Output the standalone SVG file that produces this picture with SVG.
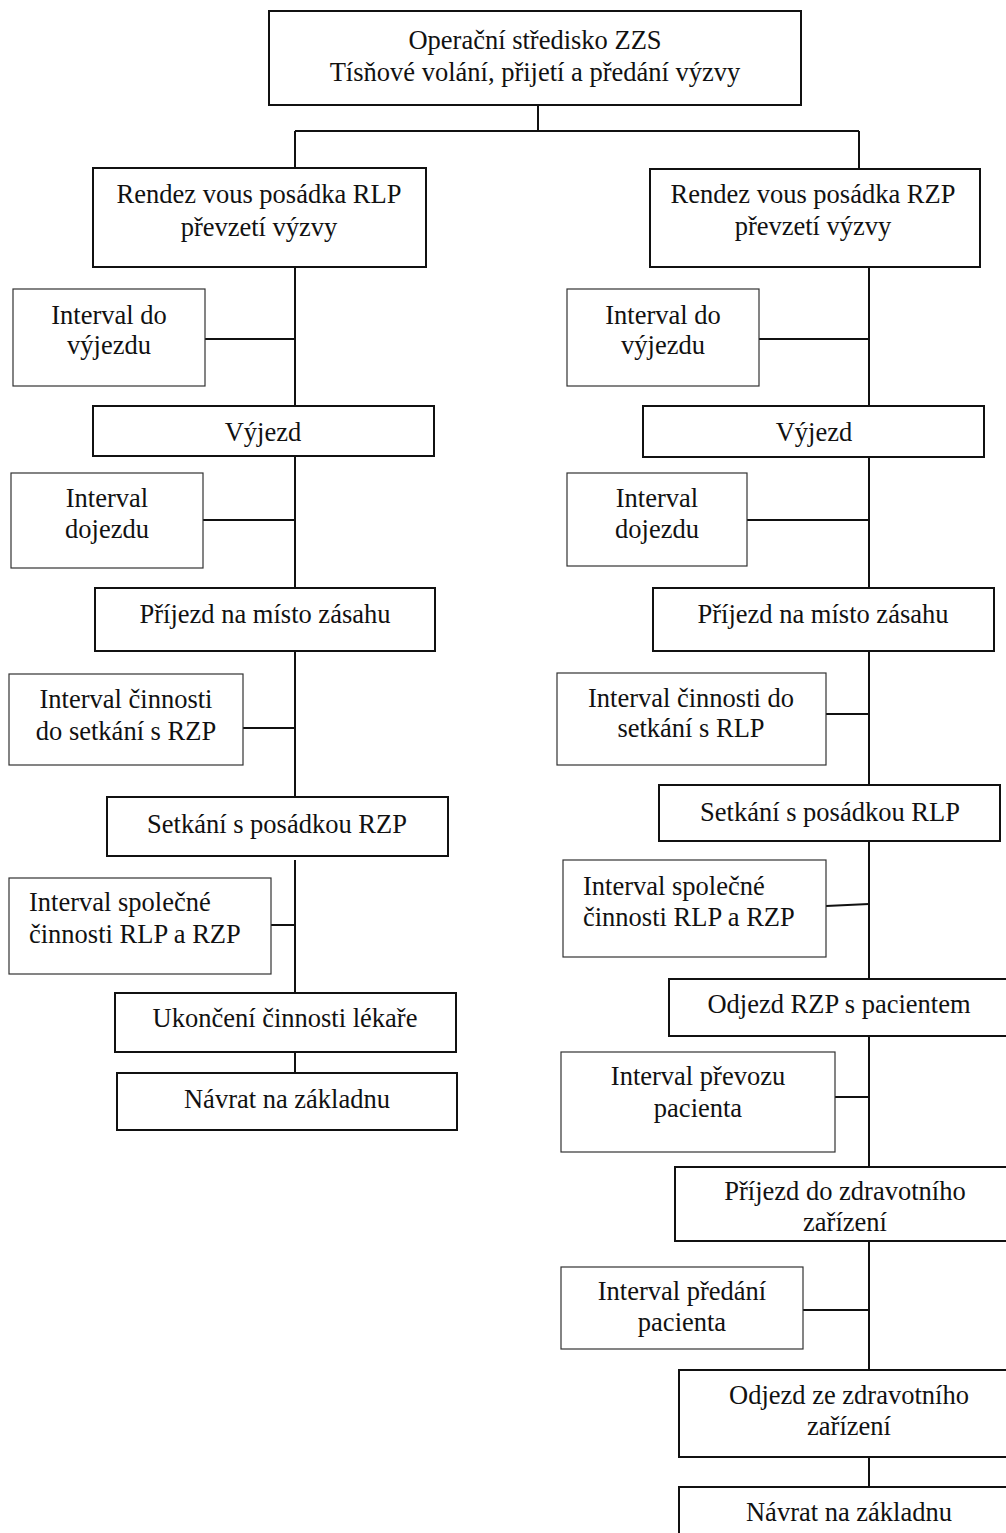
<svg xmlns="http://www.w3.org/2000/svg" width="1006" height="1533" viewBox="0 0 1006 1533">
<style>
text{font-family:"Liberation Serif","Times New Roman",serif;font-size:26.5px;fill:#111;text-anchor:middle}
.m{fill:#fff;stroke:#111;stroke-width:2}
.i{fill:#fff;stroke:#333;stroke-width:1.2}
.c{stroke:#111;stroke-width:2;fill:none}
.l{text-anchor:start}
</style>
<rect width="1006" height="1533" fill="#fff"/>
<g id="connectors">
<path class="c" d="M538 105V131M295 131H859M295 131V168M859 131V169"/>
<path class="c" d="M295 267V406M295 456V588M295 651V797M295 860V993M295 1052V1073"/>
<path class="c" d="M205 339H295M203 520H295M243 728H295M271 925H295"/>
<path class="c" d="M869 267V406M869 457V588M869 651V785M869 841V979M869 1036V1167M869 1241V1370M869 1457V1487"/>
<path class="c" d="M759 339H869M747 520H869M826 714H869M826 906L869 904M835 1097H869M801 1310H869"/>
</g>
<g font-family="Liberation Serif, Times New Roman, serif">
<g id="top"><rect class="m" x="269" y="11" width="532" height="94"/><text x="535" y="49">Operační středisko ZZS</text><text x="535" y="81">Tísňové volání, přijetí a předání výzvy</text></g>
<g id="rlp"><rect class="m" x="93" y="168" width="333" height="99"/><text x="259" y="203">Rendez vous posádka RLP</text><text x="259" y="236">převzetí výzvy</text></g>
<g id="rzp"><rect class="m" x="650" y="169" width="330" height="98"/><text x="813" y="203">Rendez vous posádka RZP</text><text x="813" y="235">převzetí výzvy</text></g>
<g id="l-int1"><rect class="i" x="13" y="289" width="192" height="97"/><text x="109" y="324">Interval do</text><text x="109" y="354">výjezdu</text></g>
<g id="l-vyjezd"><rect class="m" x="93" y="406" width="341" height="50"/><text x="263" y="441">Výjezd</text></g>
<g id="l-int2"><rect class="i" x="11" y="473" width="192" height="95"/><text x="107" y="507">Interval</text><text x="107" y="538">dojezdu</text></g>
<g id="l-prijezd"><rect class="m" x="95" y="588" width="340" height="63"/><text x="265" y="623">Příjezd na místo zásahu</text></g>
<g id="l-int3"><rect class="i" x="9" y="674" width="234" height="91"/><text x="126" y="708">Interval činnosti</text><text x="126" y="740">do setkání s RZP</text></g>
<g id="l-setkani"><rect class="m" x="107" y="797" width="341" height="59"/><text x="277" y="833">Setkání s posádkou RZP</text></g>
<g id="l-int4"><rect class="i" x="9" y="878" width="262" height="96"/><text class="l" x="29" y="911">Interval společné</text><text class="l" x="29" y="943">činnosti RLP a RZP</text></g>
<g id="l-ukonceni"><rect class="m" x="115" y="993" width="341" height="59"/><text x="285" y="1027">Ukončení činnosti lékaře</text></g>
<g id="l-navrat"><rect class="m" x="117" y="1073" width="340" height="57"/><text x="287" y="1108">Návrat na základnu</text></g>
<g id="r-int1"><rect class="i" x="567" y="289" width="192" height="97"/><text x="663" y="324">Interval do</text><text x="663" y="354">výjezdu</text></g>
<g id="r-vyjezd"><rect class="m" x="643" y="406" width="341" height="51"/><text x="814" y="441">Výjezd</text></g>
<g id="r-int2"><rect class="i" x="567" y="473" width="180" height="93"/><text x="657" y="507">Interval</text><text x="657" y="538">dojezdu</text></g>
<g id="r-prijezd"><rect class="m" x="653" y="588" width="341" height="63"/><text x="823" y="623">Příjezd na místo zásahu</text></g>
<g id="r-int3"><rect class="i" x="557" y="673" width="269" height="92"/><text x="691" y="707">Interval činnosti do</text><text x="691" y="737">setkání s RLP</text></g>
<g id="r-setkani"><rect class="m" x="659" y="785" width="341" height="56"/><text x="830" y="821">Setkání s posádkou RLP</text></g>
<g id="r-int4"><rect class="i" x="563" y="860" width="263" height="97"/><text class="l" x="583" y="895">Interval společné</text><text class="l" x="583" y="926">činnosti RLP a RZP</text></g>
<g id="r-odjezd"><rect class="m" x="669" y="979" width="341" height="57"/><text x="839" y="1013">Odjezd RZP s pacientem</text></g>
<g id="r-int5"><rect class="i" x="561" y="1052" width="274" height="100"/><text x="698" y="1085">Interval převozu</text><text x="698" y="1117">pacienta</text></g>
<g id="r-prijezd-zz"><rect class="m" x="675" y="1167" width="340" height="74"/><text x="845" y="1200">Příjezd do zdravotního</text><text x="845" y="1231">zařízení</text></g>
<g id="r-int6"><rect class="i" x="561" y="1267" width="242" height="82"/><text x="682" y="1300">Interval předání</text><text x="682" y="1331">pacienta</text></g>
<g id="r-odjezd-zz"><rect class="m" x="679" y="1370" width="341" height="87"/><text x="849" y="1404">Odjezd ze zdravotního</text><text x="849" y="1435">zařízení</text></g>
<g id="r-navrat"><rect class="m" x="679" y="1487" width="341" height="60"/><text x="849" y="1521">Návrat na základnu</text></g>
</g>
</svg>
